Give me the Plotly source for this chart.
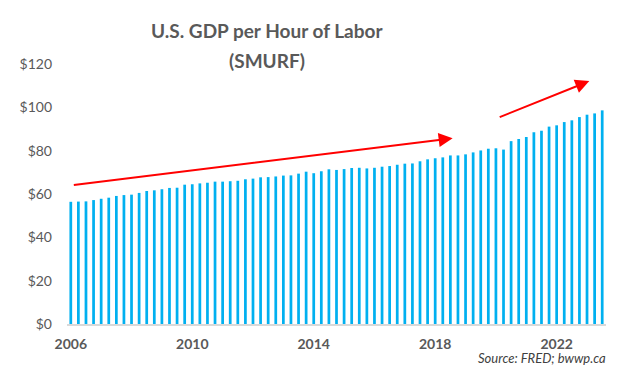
import plotly.graph_objects as go

# Quarterly data 2006Q1 .. 2023Q3
quarters = [f"{y}Q{q}" for y in range(2006, 2024) for q in range(1, 5)][:71]
gdp_per_hour = [
    56.4, 56.5, 56.6, 57.2, 57.8, 58.3, 59.1, 59.5, 59.7, 60.5,
    61.4, 61.7, 62.2, 62.8, 62.9, 64.3, 64.5, 64.9, 65.2, 65.7,
    65.7, 65.9, 66.1, 66.8, 67.1, 67.7, 67.8, 68.1, 68.5, 68.6,
    69.4, 70.3, 69.6, 70.5, 71.4, 71.1, 71.5, 72.0, 72.1, 71.8,
    72.1, 72.6, 72.9, 73.5, 74.0, 74.1, 75.1, 76.0, 76.5, 76.9,
    77.8, 77.8, 78.3, 79.2, 80.1, 80.9, 81.1, 80.5, 84.4, 85.4,
    86.3, 88.5, 89.2, 91.1, 91.7, 93.2, 94.0, 95.5, 96.6, 97.2,
    98.6,
]
x_index = list(range(len(quarters)))
tick_positions = [0, 16, 32, 48, 64]
tick_labels = ["2006", "2010", "2014", "2018", "2022"]
y_ticks = [0, 20, 40, 60, 80, 100, 120]
y_tick_labels = ["$0", "$20", "$40", "$60", "$80", "$100", "$120"]

# trend arrows (start x, start y, end x, end y) in data units
arrows = [
    (0.2, 64.1, 50.3, 85.7),
    (56.3, 95.2, 68.3, 112.1),
]

title_lines = ["U.S. GDP per Hour of Labor", "(SMURF)"]

fig = go.Figure()
fig.add_trace(go.Bar(
    x=x_index, y=gdp_per_hour,
    marker=dict(color="#00B0F0", line=dict(width=0)),
    hovertext=quarters,
))

for (x0, y0, x1, y1) in arrows:
    fig.add_annotation(
        x=x1, y=y1, ax=x0, ay=y0, xref="x", yref="y", axref="x", ayref="y",
        text="", showarrow=True, arrowhead=2, arrowsize=1.4, arrowwidth=2,
        arrowcolor="#FF0000",
    )

for line, shift in zip(title_lines, [34, 4]):
    fig.add_annotation(
        text=line,
        xref="paper", yref="paper", x=0.3704, y=1.0, yshift=shift,
        xanchor="center", yanchor="middle", showarrow=False,
        font=dict(family="Lato", size=19, color="#595959", weight="bold"),
    )

fig.add_annotation(
    text="<i>Source: FRED; bwwp.ca</i>",
    xref="paper", yref="paper", x=1.0, y=0, yshift=-24, xshift=2,
    xanchor="right", yanchor="top", showarrow=False,
    font=dict(family="Lato", size=13, color="#404040"),
)

fig.update_layout(
    width=616, height=366,
    margin=dict(l=50, r=18, t=56, b=50),
    paper_bgcolor="white", plot_bgcolor="white",
    bargap=0.64,
    showlegend=False,
    xaxis=dict(
        range=[-0.5, 70.5], tickmode="array", tickvals=tick_positions,
        ticktext=tick_labels, showgrid=False, zeroline=False,
        showline=True, linecolor="#D9D9D9", linewidth=1.5, ticks="",
        tickfont=dict(family="Lato", size=14, color="#595959", weight="bold"),
        ticklabelstandoff=6,
    ),
    yaxis=dict(
        range=[0, 120], tickmode="array", tickvals=y_ticks,
        ticktext=y_tick_labels, showgrid=False, zeroline=False,
        showline=False, ticks="",
        tickfont=dict(family="Lato", size=14, color="#595959"),
        ticklabelstandoff=14,
    ),
)

fig.write_html("out.html")
